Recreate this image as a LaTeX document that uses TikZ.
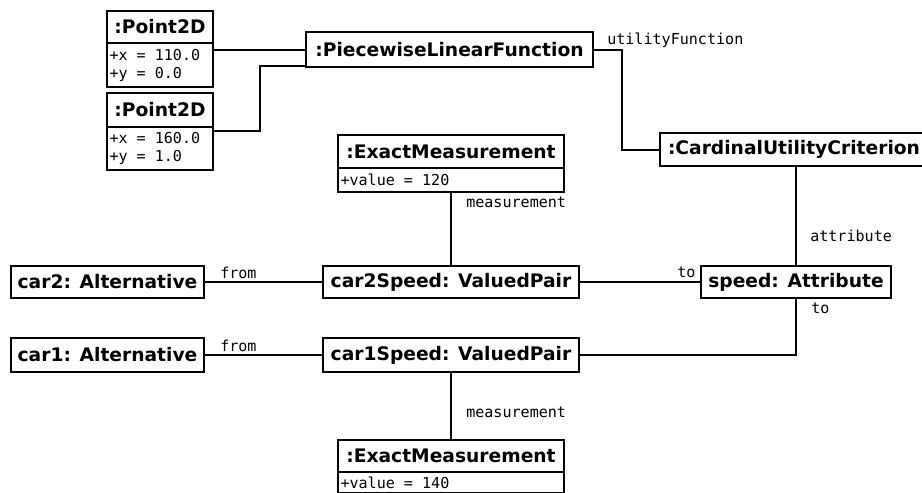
\documentclass[tikz,border=0pt]{standalone}
\usepackage{fontspec}
\setmainfont{DejaVu Sans}
\newfontfamily\monofont{DejaVu Sans Mono}
\usetikzlibrary{positioning}
\newdimen\px \px=0.75pt
\tikzset{
  oggetto/.style={draw, line width=1.6pt, outer sep=0pt, font=\bfseries\fontsize{14}{16}\selectfont, minimum height=32\px, inner sep=0pt},
  attributi/.style={draw, line width=1.6pt, outer sep=0pt, font=\monofont\fontsize{11.3}{13.5}\selectfont, align=left, anchor=north west, inner xsep=2.5\px, inner ysep=1\px, execute at begin node={\spaceskip=0.602em\relax}},
  legame/.style={line width=1.5pt},
  ruolo/.style={font=\monofont\fontsize{11.3}{13.5}\selectfont, inner sep=0pt, anchor=base west}
}
\begin{document}
\begin{tikzpicture}[x=0.75pt,y=-0.75pt]
  \useasboundingbox (0,0) rectangle (922,493);

  % Punti della funzione
  \node[oggetto, minimum width=106\px] (p1) at (160,27) {:Point2D};
  \node[attributi, text width=101\px, minimum height=44\px] (p1a) at (p1.south west) {+x = 110.0\\+y = 0.0};
  \node[oggetto, minimum width=106\px, minimum height=34\px] (p2) at (160,110) {:Point2D};
  \node[attributi, text width=101\px, minimum height=43\px] (p2a) at (p2.south west) {+x = 160.0\\+y = 1.0};

  % Funzione e criterio
  \node[oggetto, minimum width=287\px, minimum height=35\px] (plf) at (449.5,49.5) {:PiecewiseLinearFunction};
  \node[oggetto, minimum height=33\px, inner xsep=8\px, anchor=west] (cuc) at (660,149.5) {:CardinalUtilityCriterion};

  % Misure
  \node[oggetto, minimum width=226\px, minimum height=33\px] (em1) at (451,151.5) {:ExactMeasurement};
  \node[attributi, text width=221\px, minimum height=24\px] (em1a) at (em1.south west) {+value = 120};
  \node[oggetto, minimum width=226\px] (em2) at (451,456) {:ExactMeasurement};
  \node[attributi, text width=221\px, minimum height=21\px] (em2a) at (em2.south west) {+value = 140};

  % Alternative e coppie
  \node[oggetto, minimum width=193\px] (car2) at (107.5,282) {car2: Alternative};
  \node[oggetto, minimum width=256\px] (v2) at (451,282) {car2Speed: ValuedPair};
  \node[oggetto, minimum width=190\px] (speed) at (796,282) {speed: Attribute};
  \node[oggetto, minimum width=193\px, minimum height=34\px] (car1) at (107.5,355) {car1: Alternative};
  \node[oggetto, minimum width=256\px, minimum height=34\px] (v1) at (451,355) {car1Speed: ValuedPair};

  % Collegamenti
  \draw[legame] (p1a.east |- plf.west) -- (plf.west);
  \draw[legame] ([yshift=-3pt]p2a.north east) -- ++(47,0) |- ([yshift=1pt]plf.south west);
  \draw[legame] (plf.east) -- ++(29,0) |- (cuc.west);
  \draw[legame] (em1a.south) -- (v2.north);
  \draw[legame] (car2) -- (v2);
  \draw[legame] (v2) -- (speed);
  \draw[legame] (speed.north) -- (speed.north |- cuc.south);
  \draw[legame] (speed.south) |- (v1.east);
  \draw[legame] (car1) -- (v1);
  \draw[legame] (v1.south) -- (em2.north);

  % Ruoli
  \node[ruolo] (r1) at (607,44) {utilityFunction};
  \node[ruolo] (r2) at (466,207) {measurement};
  \node[ruolo] (r3) at (220,278) {from};
  \node[ruolo] (r4) at (220,351) {from};
  \node[ruolo] (r5) at (677,277) {to};
  \node[ruolo] (r6) at (810,241) {attribute};
  \node[ruolo] (r7) at (811,313) {to};
  \node[ruolo] (r8) at (466,417) {measurement};
\end{tikzpicture}
\end{document}
